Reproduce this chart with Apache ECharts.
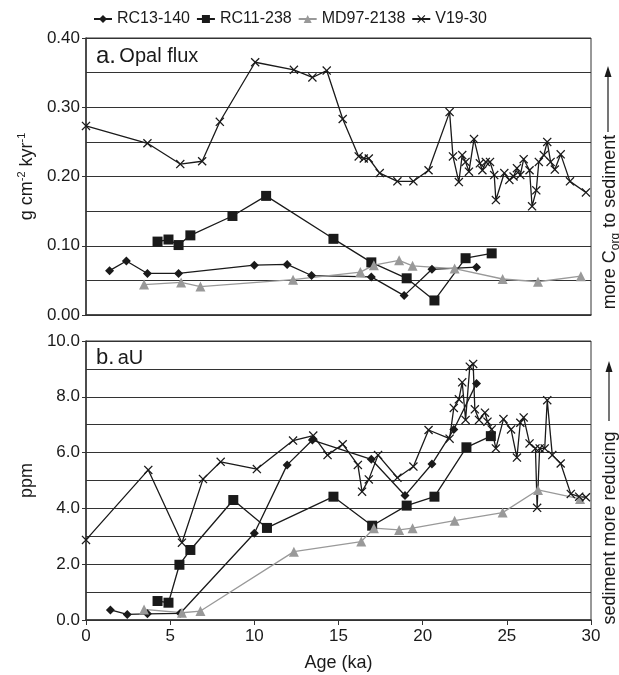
<!DOCTYPE html>
<html>
<head>
<meta charset="utf-8">
<script src="https://cdn.jsdelivr.net/npm/echarts@6/dist/echarts.min.js"></script>
<style>
  html, body { margin: 0; padding: 0; background: #fff; }
  #chart { width: 619px; height: 675px; }
</style>
</head>
<body>
<div id="chart"></div>
<script>
// age (ka) / value pairs
const names = ['RC13-140', 'RC11-238', 'MD97-2138', 'V19-30'];
const ageTicks = [0, 5, 10, 15, 20, 25, 30];

// a. opal flux (g cm-2 kyr-1)
const rc13Opal = [[1.4,0.064],[2.4,0.078],[3.65,0.060],[5.5,0.060],[10.0,0.072],[11.95,0.073],[13.4,0.057],[16.95,0.055],[18.9,0.028],[20.55,0.066],[23.2,0.069]];
const rc11Opal = [[4.25,0.106],[4.9,0.109],[5.5,0.101],[6.2,0.115],[8.7,0.143],[10.7,0.172],[14.7,0.110],[16.95,0.076],[19.05,0.053],[20.7,0.021],[22.55,0.082],[24.1,0.089]];
const md97Opal = [[3.45,0.044],[5.65,0.047],[6.8,0.041],[12.3,0.051],[16.3,0.062],[17.1,0.072],[18.6,0.079],[19.4,0.071],[21.9,0.067],[24.75,0.052],[26.85,0.048],[29.4,0.056]];
const v19Opal = [[0,0.273],[3.65,0.248],[5.6,0.218],[6.9,0.222],[7.95,0.279],[10.05,0.365],[12.35,0.354],[13.45,0.343],[14.3,0.353],[15.25,0.283],[16.2,0.229],[16.5,0.226],[16.8,0.226],[17.45,0.205],[18.5,0.193],[19.45,0.193],[20.35,0.209],[21.6,0.293],[21.8,0.229],[22.15,0.192],[22.35,0.231],[22.55,0.221],[22.75,0.207],[23.05,0.254],[23.4,0.219],[23.55,0.209],[23.75,0.221],[24.0,0.221],[24.25,0.202],[24.35,0.166],[24.85,0.205],[25.15,0.195],[25.4,0.200],[25.6,0.212],[25.8,0.202],[26.0,0.225],[26.35,0.209],[26.5,0.157],[26.75,0.180],[26.9,0.221],[27.2,0.231],[27.4,0.250],[27.6,0.221],[27.85,0.210],[28.2,0.232],[28.75,0.193],[29.7,0.177]];

// b. authigenic U (ppm)
const rc13U = [[1.45,0.36],[2.45,0.20],[3.65,0.22],[5.6,0.24],[10.0,3.11],[11.95,5.56],[13.45,6.45],[16.95,5.76],[18.95,4.46],[20.55,5.59],[21.85,6.83],[23.2,8.48]];
const rc11U = [[4.25,0.68],[4.9,0.62],[5.55,1.98],[6.2,2.51],[8.75,4.30],[10.75,3.30],[14.7,4.42],[17.0,3.38],[19.05,4.10],[20.7,4.42],[22.6,6.19],[24.05,6.59]];
const md97U = [[3.45,0.38],[5.7,0.26],[6.8,0.32],[12.35,2.45],[16.35,2.81],[17.1,3.29],[18.6,3.23],[19.4,3.29],[21.9,3.56],[24.75,3.85],[26.85,4.66],[29.35,4.34]];
const v19U = [[0,2.87],[3.7,5.38],[5.7,2.77],[6.95,5.05],[8.0,5.67],[10.15,5.41],[12.3,6.43],[13.5,6.61],[14.35,5.91],[15.25,6.30],[16.15,5.56],[16.4,4.60],[16.8,5.04],[17.35,5.91],[18.5,5.10],[19.45,5.50],[20.35,6.81],[21.6,6.50],[21.85,7.60],[22.15,7.91],[22.35,8.52],[22.55,7.17],[22.8,9.08],[23.0,9.18],[23.1,7.55],[23.35,7.17],[23.7,7.43],[23.85,7.11],[24.1,6.83],[24.35,6.15],[24.8,7.20],[25.25,6.83],[25.6,5.82],[25.8,7.07],[26.0,7.26],[26.35,6.33],[26.7,6.15],[26.8,4.02],[26.95,6.15],[27.25,6.15],[27.4,7.88],[27.7,5.91],[28.2,5.61],[28.8,4.52],[29.3,4.42],[29.7,4.40]];

const FONT = '"Liberation Sans", Arial, sans-serif';
const INK = '#1a1a1a';
const GREY = '#999999';
const crossPath = 'path://M0,1L1,0L5,4L9,0L10,1L6,5L10,9L9,10L5,6L1,10L0,9L4,5Z';

function makeSeries(name, data, idx, symbol, size, color) {
  return {
    name: name,
    type: 'line',
    xAxisIndex: idx,
    yAxisIndex: idx,
    data: data,
    symbol: symbol,
    symbolSize: size,
    showAllSymbol: true,
    lineStyle: { color: color, width: 1.3 },
    itemStyle: { color: color },
    emphasis: { disabled: true },
    animation: false
  };
}

function yAxis(idx, max, interval, digits, name, gap) {
  return {
    type: 'value',
    gridIndex: idx,
    min: 0,
    max: max,
    interval: interval,
    name: name,
    nameLocation: 'middle',
    nameGap: gap,
    nameTextStyle: {
      fontFamily: FONT, fontSize: 18, color: INK,
      rich: { sup: { fontFamily: FONT, fontSize: 11, color: INK, verticalAlign: 'top', lineHeight: 22 } }
    },
    axisLine: { show: true, lineStyle: { color: '#333', width: 1.5 } },
    axisTick: { show: true, length: 4, lineStyle: { color: '#333' } },
    axisLabel: { fontFamily: FONT, fontSize: 17, color: INK, margin: 6, formatter: v => v.toFixed(digits) },
    splitLine: { show: true, lineStyle: { color: '#333', width: 1 } },
    minorTick: { show: false, splitNumber: 2 },
    minorSplitLine: { show: true, lineStyle: { color: '#333', width: 1 } }
  };
}

const chart = echarts.init(document.getElementById('chart'));

chart.setOption({
  backgroundColor: '#fff',
  animation: false,
  legend: {
    data: names,
    left: 88,
    top: 6,
    itemWidth: 18,
    itemHeight: 10,
    itemGap: 6,
    textStyle: { fontFamily: FONT, fontSize: 16, color: INK }
  },
  grid: [
    { left: 86, right: 28, top: 38, height: 277, show: true, borderColor: '#333', borderWidth: 1 },
    { left: 86, right: 28, top: 341, height: 279, show: true, borderColor: '#333', borderWidth: 1 }
  ],
  xAxis: [
    {
      type: 'value', gridIndex: 0, min: ageTicks[0], max: ageTicks[ageTicks.length - 1], interval: 5,
      axisLine: { show: true, lineStyle: { color: '#333', width: 1.5 } },
      axisTick: { show: false }, axisLabel: { show: false }, splitLine: { show: false }
    },
    {
      type: 'value', gridIndex: 1, min: ageTicks[0], max: ageTicks[ageTicks.length - 1], interval: 5,
      name: 'Age (ka)', nameLocation: 'middle', nameGap: 34,
      nameTextStyle: { fontFamily: FONT, fontSize: 18, color: INK },
      axisLine: { show: true, lineStyle: { color: '#333', width: 1.5 } },
      axisTick: { show: true, length: 5, lineStyle: { color: '#333' } },
      axisLabel: { fontFamily: FONT, fontSize: 17, color: INK, margin: 8 },
      splitLine: { show: false }
    }
  ],
  yAxis: [
    yAxis(0, 0.4, 0.1, 2, 'g cm{sup|-2} kyr{sup|-1}', 44),
    yAxis(1, 10, 2, 1, 'ppm', 50)
  ],
  series: [
    makeSeries(names[0], rc13Opal, 0, 'diamond', 9, INK),
    makeSeries(names[1], rc11Opal, 0, 'rect', 10, INK),
    makeSeries(names[2], md97Opal, 0, 'triangle', 10, GREY),
    makeSeries(names[3], v19Opal, 0, crossPath, 9, INK),
    makeSeries(names[0], rc13U, 1, 'diamond', 9, INK),
    makeSeries(names[1], rc11U, 1, 'rect', 10, INK),
    makeSeries(names[2], md97U, 1, 'triangle', 10, GREY),
    makeSeries(names[3], v19U, 1, crossPath, 9, INK)
  ],
  graphic: [
    {
      type: 'text', left: 96, top: 44,
      style: {
        text: '{a|a.} {t|Opal flux}',
        rich: {
          a: { fontFamily: FONT, fontSize: 24, fill: INK },
          t: { fontFamily: FONT, fontSize: 20, fill: INK }
        }
      }
    },
    {
      type: 'text', left: 96, top: 347,
      style: {
        text: '{a|b.} {t|aU}',
        rich: {
          a: { fontFamily: FONT, fontSize: 22, fill: INK },
          t: { fontFamily: FONT, fontSize: 20, fill: INK }
        }
      }
    },
    {
      type: 'text', x: 610, y: 222, rotation: Math.PI / 2,
      style: {
        text: '{t|more C}{sub|org}{t| to sediment}',
        align: 'center', verticalAlign: 'middle',
        rich: {
          t: { fontFamily: FONT, fontSize: 18, fill: INK, lineHeight: 24 },
          sub: { fontFamily: FONT, fontSize: 12, fill: INK, verticalAlign: 'bottom', lineHeight: 24 }
        }
      }
    },
    { type: 'line', shape: { x1: 608, y1: 132, x2: 608, y2: 74 }, style: { stroke: INK, lineWidth: 1.2 } },
    { type: 'polygon', shape: { points: [[608, 66], [604.5, 77], [611.5, 77]] }, style: { fill: INK } },
    {
      type: 'text', x: 610, y: 528, rotation: Math.PI / 2,
      style: {
        text: 'sediment more reducing',
        align: 'center', verticalAlign: 'middle',
        font: '18px ' + FONT, fill: INK
      }
    },
    { type: 'line', shape: { x1: 609, y1: 421, x2: 609, y2: 369 }, style: { stroke: INK, lineWidth: 1.2 } },
    { type: 'polygon', shape: { points: [[609, 361], [605.5, 372], [612.5, 372]] }, style: { fill: INK } }
  ]
});
</script>
</body>
</html>
